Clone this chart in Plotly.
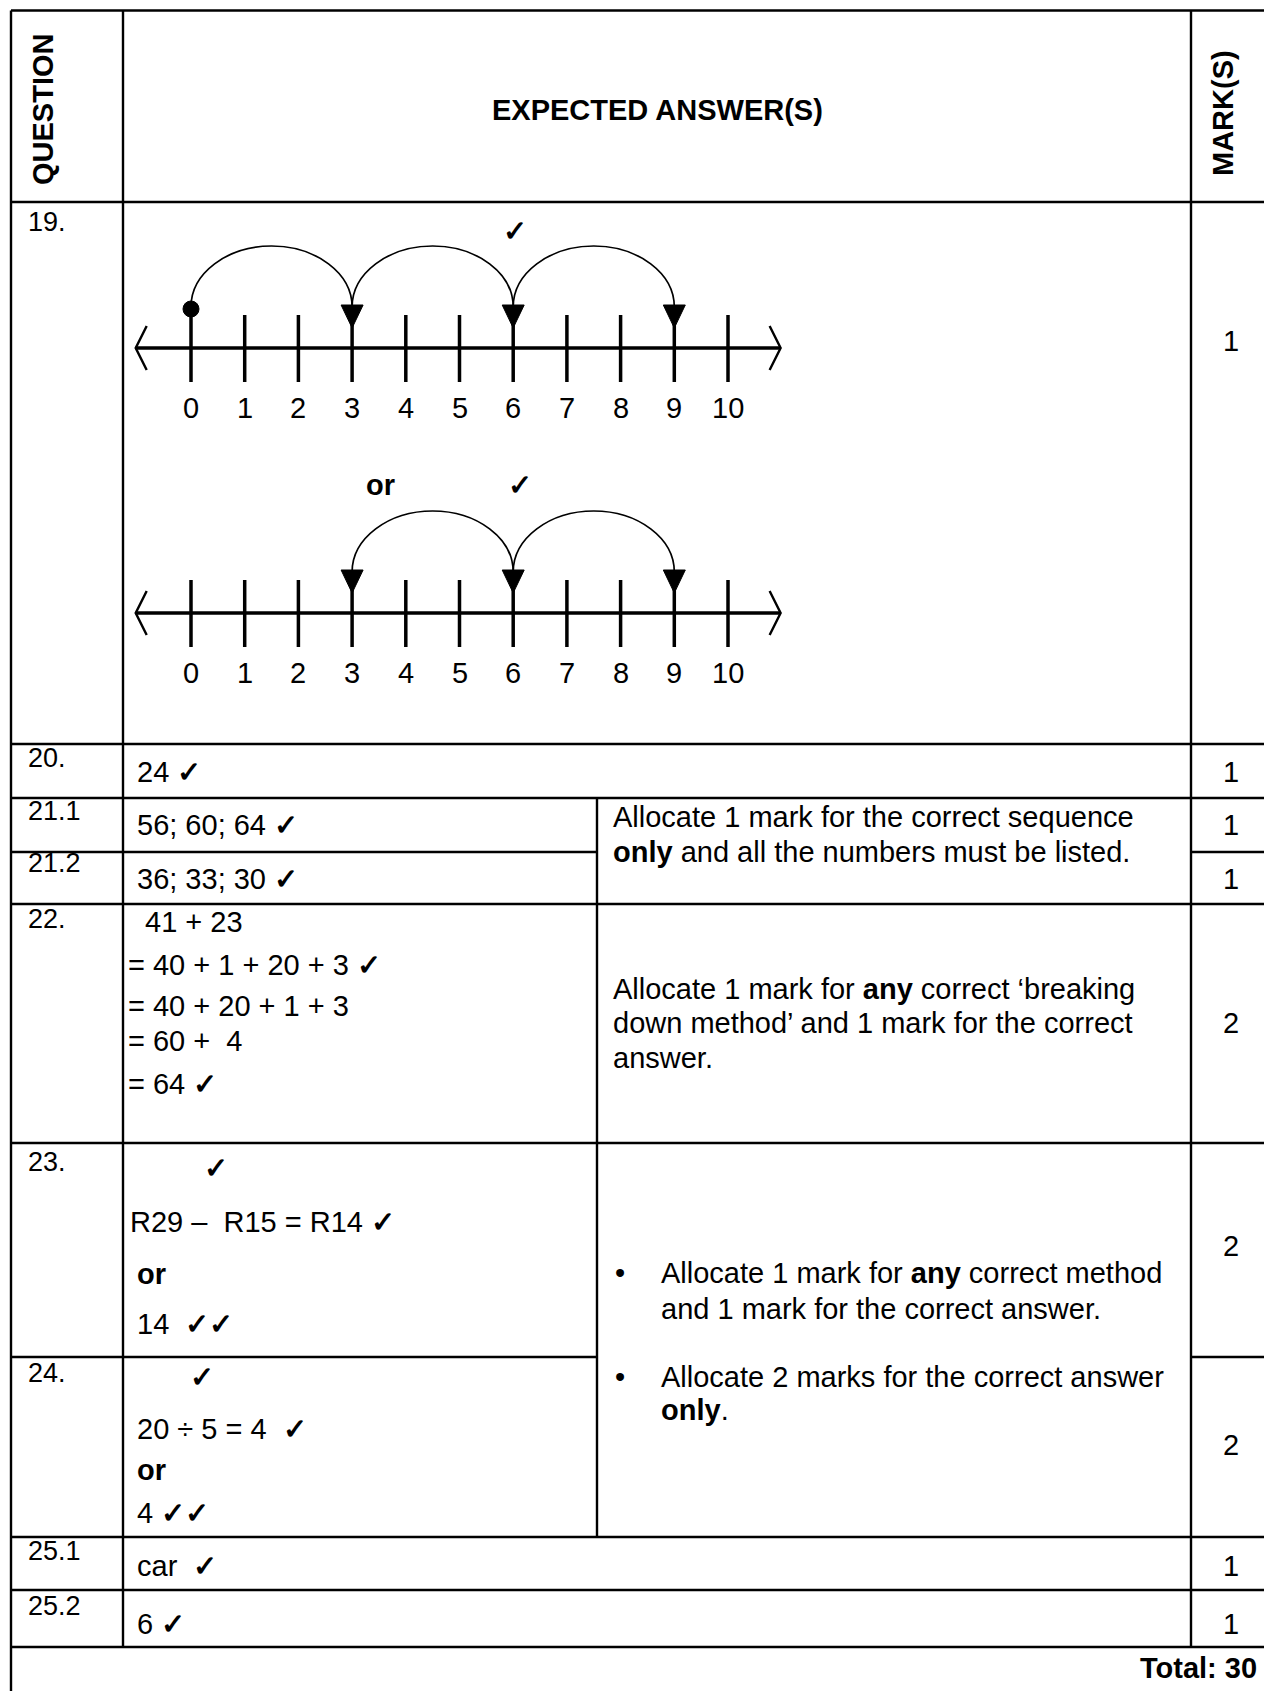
import plotly.graph_objects as go

# ---------------- data ----------------
header_labels = ["QUESTION", "EXPECTED ANSWER(S)", "MARK(S)"]
questions = ["19.", "20.", "21.1", "21.2", "22.", "23.", "24.", "25.1", "25.2"]
marks = ["1", "1", "1", "1", "2", "2", "2", "1", "1"]
number_line_ticks = list(range(0, 11))
jumps_line1 = [(0, 3), (3, 6), (6, 9)]
jumps_line2 = [(6, 3), (6, 9)]
arrowheads_line1 = [3, 6, 9]
arrowheads_line2 = [3, 6, 9]
start_dot = [0]
CK = "<b>✓</b>"
ans_20 = ["24 " + CK]
ans_21_1 = ["56; 60; 64 " + CK]
ans_21_2 = ["36; 33; 30 " + CK]
ans_22 = ["41 + 23", "= 40 + 1 + 20 + 3 " + CK, "= 40 + 20 + 1 + 3", "= 60 +\u00a0 4", "= 64 " + CK]
ans_23 = [CK, "R29 –\u00a0 R15 = R14 " + CK, "<b>or</b>", "14 \u00a0" + CK + CK]
ans_24 = [CK, "20 ÷ 5 = 4 \u00a0" + CK, "<b>or</b>", "4 " + CK + CK]
ans_25_1 = ["car \u00a0" + CK]
ans_25_2 = ["6 " + CK]
comment_21 = ["Allocate 1 mark for the correct sequence",
              "<b>only</b> and all the numbers must be listed."]
comment_22 = ["Allocate 1 mark for <b>any</b> correct ‘breaking",
              "down method’ and 1 mark for the correct",
              "answer."]
comment_23_24_a = ["Allocate 1 mark for <b>any</b> correct method",
                   "and 1 mark for the correct answer."]
comment_23_24_b = ["Allocate 2 marks for the correct answer",
                   "<b>only</b>."]
total_label = "Total: 30"

# ---------------- layout constants ----------------
W, H = 1264, 1691
FONT = "Liberation Sans, Arial, sans-serif"
BODY = 29
QSIZE = 27
LW = 2.4

X_LEFT, X_Q, X_C, X_M, X_RIGHT = 11, 123, 597, 1191, 1264
Y_TOP, Y_HEAD = 10.5, 202
row_bounds = [202, 744, 798, 852, 904, 1143, 1357, 1537, 1590, 1647]

shapes = []
annotations = []


def hline(x0, x1, y, w=LW):
    shapes.append(dict(type="line", x0=x0, x1=x1, y0=y, y1=y, xref="x", yref="y",
                       line=dict(color="black", width=w)))


def vline(x, y0, y1, w=LW):
    shapes.append(dict(type="line", x0=x, x1=x, y0=y0, y1=y1, xref="x", yref="y",
                       line=dict(color="black", width=w)))


def text(x, y, s, size=BODY, anchor="left", bold=False, angle=0):
    if bold:
        s = "<b>" + s + "</b>"
    annotations.append(dict(x=x, y=y, xref="x", yref="y", text=s, showarrow=False,
                            xanchor=anchor, yanchor="middle", textangle=angle,
                            font=dict(family=FONT, size=size, color="black")))


# ---- table grid ----
hline(X_LEFT, X_RIGHT, Y_TOP)
hline(X_LEFT, X_RIGHT, Y_HEAD)
vline(X_LEFT, Y_TOP, H)
vline(X_Q, Y_TOP, row_bounds[-1])
vline(X_M, Y_TOP, row_bounds[-1])
for yb in [744, 798, 904, 1143, 1537, 1590, 1647]:
    hline(X_LEFT, X_RIGHT, yb)
hline(X_LEFT, X_C, 852)
hline(X_M, X_RIGHT, 852)
hline(X_LEFT, X_C, 1357)
hline(X_M, X_RIGHT, 1357)
vline(X_C, 798, 1537)

# ---- header ----
text(43, 110, header_labels[0], size=BODY, anchor="center", bold=True, angle=-90)
text(657, 110, header_labels[1], size=BODY, anchor="center", bold=True)
text(1223, 113, header_labels[2], size=BODY, anchor="center", bold=True, angle=-90)

# ---- question numbers ----
q_y = [222, 758, 811, 863, 919, 1162, 1373, 1551, 1606]
for q, y in zip(questions, q_y):
    text(26, y, q, size=QSIZE)

# ---- marks ----
m_y = [341, 772, 825, 879, 1023, 1246, 1445, 1566, 1624]
for m, y in zip(marks, m_y):
    text(1231, y, m, anchor="center")

# ---- answers ----
AX = 135
text(AX, 772, ans_20[0])
text(AX, 825, ans_21_1[0])
text(AX, 879, ans_21_2[0])
for s, x, y in zip(ans_22, [143, 126, 126, 126, 126], [922, 965, 1006, 1041, 1084]):
    text(x, y, s)
for s, x, y in zip(ans_23, [202, 128, 135, 135], [1168, 1222, 1274, 1324]):
    text(x, y, s)
for s, x, y in zip(ans_24, [188, 135, 135, 135], [1377, 1429, 1470, 1513]):
    text(x, y, s)
text(AX, 1566, ans_25_1[0])
text(AX, 1624, ans_25_2[0])

# ---- comments ----
CX = 611
for s, y in zip(comment_21, [817, 852]):
    text(CX, y, s)
for s, y in zip(comment_22, [989, 1023, 1058]):
    text(CX, y, s)
BX, TX = 620, 659
text(BX, 1273, "•", anchor="center")
for s, y in zip(comment_23_24_a, [1273, 1309]):
    text(TX, y, s)
text(BX, 1377, "•", anchor="center")
for s, y in zip(comment_23_24_b, [1377, 1410]):
    text(TX, y, s)

text(1259, 1668, total_label, anchor="right", bold=True)

# ---- number lines ----
NL_X0, NL_STEP = 191, 53.7


def nx(v):
    return NL_X0 + v * NL_STEP


def number_line(axis_y, jumps, heads, dot=None):
    tick_top, tick_bot = axis_y - 33, axis_y + 34
    lx, rx = nx(-1.03), nx(10.98)
    shapes.append(dict(type="line", x0=lx, x1=rx, y0=axis_y, y1=axis_y,
                       xref="x", yref="y", line=dict(color="black", width=3.5)))
    shapes.append(dict(type="path", path=f"M{lx+11},{axis_y-22} L{lx},{axis_y} L{lx+11},{axis_y+22}",
                       xref="x", yref="y", line=dict(color="black", width=2.4)))
    shapes.append(dict(type="path", path=f"M{rx-11},{axis_y-22} L{rx},{axis_y} L{rx-11},{axis_y+22}",
                       xref="x", yref="y", line=dict(color="black", width=2.4)))
    for v in number_line_ticks:
        shapes.append(dict(type="line", x0=nx(v), x1=nx(v), y0=tick_top, y1=tick_bot,
                           xref="x", yref="y", line=dict(color="black", width=3.5)))
        text(nx(v), axis_y + 60, str(v), anchor="center")
    base = axis_y - 41
    h = 61
    k = 0.5523
    for a, b in jumps:
        x1, x2 = nx(a), nx(b)
        xm = (x1 + x2) / 2
        ha = (x2 - x1) / 2
        p = (f"M{x1},{base} C{x1},{base - k*h} {xm - k*ha},{base - h} {xm},{base - h} "
             f"C{xm + k*ha},{base - h} {x2},{base - k*h} {x2},{base}")
        shapes.append(dict(type="path", path=p, xref="x", yref="y",
                           line=dict(color="black", width=1.7)))
    for v in heads:
        xh = nx(v)
        shapes.append(dict(type="path",
                           path=f"M{xh-11},{base-2} L{xh+11},{base-2} L{xh},{base+21} Z",
                           xref="x", yref="y", fillcolor="black",
                           line=dict(color="black", width=1)))
    if dot is not None:
        for d in dot:
            shapes.append(dict(type="circle", x0=nx(d) - 8, x1=nx(d) + 8,
                               y0=base - 6, y1=base + 10, xref="x", yref="y",
                               fillcolor="black", line=dict(color="black", width=1)))


number_line(348, jumps_line1, arrowheads_line1, dot=start_dot)
text(515, 231, CK, anchor="center")
number_line(613, jumps_line2, arrowheads_line2)
text(380, 485, "or", anchor="center", bold=True)
text(520, 485, CK, anchor="center")

fig = go.Figure()
fig.update_layout(
    width=W, height=H,
    margin=dict(l=0, r=0, t=0, b=0),
    paper_bgcolor="white", plot_bgcolor="white",
    xaxis=dict(range=[0, W], visible=False, fixedrange=True),
    yaxis=dict(range=[H, 0], visible=False, fixedrange=True),
    shapes=shapes, annotations=annotations, showlegend=False,
)
fig.write_html("out.html", config={"displayModeBar": False},
               post_script="document.body.style.margin='0px';document.body.style.padding='0px';document.body.style.overflow='hidden';")
